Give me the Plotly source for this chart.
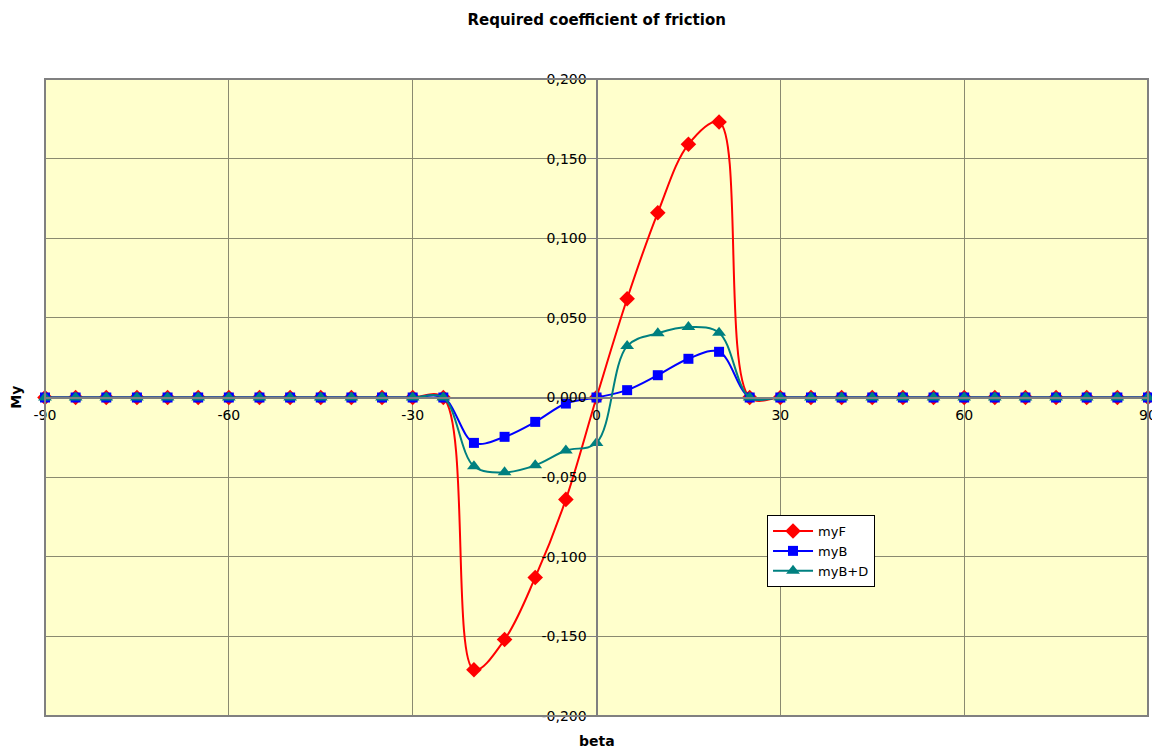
import plotly.graph_objects as go

beta = [-90, -85, -80, -75, -70, -65, -60, -55, -50, -45, -40, -35, -30, -25,
        -20, -15, -10, -5, 0, 5, 10, 15, 20, 25,
        30, 35, 40, 45, 50, 55, 60, 65, 70, 75, 80, 85, 90]

myF = [0, 0, 0, 0, 0, 0, 0, 0, 0, 0, 0, 0, 0, 0,
       -0.171, -0.152, -0.113, -0.064, 0.0, 0.062, 0.116, 0.159, 0.173, 0,
       0, 0, 0, 0, 0, 0, 0, 0, 0, 0, 0, 0, 0]

myB = [0, 0, 0, 0, 0, 0, 0, 0, 0, 0, 0, 0, 0, 0,
       -0.0285, -0.0247, -0.0153, -0.0038, 0.0, 0.0046, 0.014, 0.0243, 0.0287, 0,
       0, 0, 0, 0, 0, 0, 0, 0, 0, 0, 0, 0, 0]

myBD = [0, 0, 0, 0, 0, 0, 0, 0, 0, 0, 0, 0, 0, 0,
        -0.0432, -0.047, -0.0426, -0.0333, -0.0285, 0.0323, 0.0403, 0.0442, 0.0407, 0,
        0, 0, 0, 0, 0, 0, 0, 0, 0, 0, 0, 0, 0]

x_ticks = [-90, -60, -30, 0, 30, 60, 90]
x_ticktext = ["-90", "-60", "-30", "0", "30", "60", "90"]
y_ticks = [-0.2, -0.15, -0.1, -0.05, 0.0, 0.05, 0.1, 0.15, 0.2]
y_ticktext = ["-0,200", "-0,150", "-0,100", "-0,050", "0,000", "0,050", "0,100", "0,150", "0,200"]

FONT = "DejaVu Sans, Liberation Sans, Arial, sans-serif"

fig = go.Figure()
fig.add_trace(go.Scatter(x=beta, y=myF, name="myF", mode="lines+markers",
                         line=dict(color="#FF0000", width=2, shape="spline", smoothing=1),
                         marker=dict(symbol="diamond", size=12, color="#FF0000"),
                         cliponaxis=False))
fig.add_trace(go.Scatter(x=beta, y=myB, name="myB", mode="lines+markers",
                         line=dict(color="#0000FF", width=2, shape="spline", smoothing=1),
                         marker=dict(symbol="square", size=10, color="#0000FF"),
                         cliponaxis=False))
fig.add_trace(go.Scatter(x=beta, y=myBD, name="myB+D", mode="lines+markers",
                         line=dict(color="#008080", width=2, shape="spline", smoothing=1),
                         marker=dict(symbol="triangle-up", size=12, color="#008080"),
                         cliponaxis=False))

fig.update_layout(
    width=1152, height=745,
    margin=dict(l=37, r=12, t=71, b=37, autoexpand=False),
    paper_bgcolor="white",
    plot_bgcolor="#FFFFCC",
    font=dict(family=FONT, size=14, color="#000000"),
    title=dict(text="<b>Required coefficient of friction</b>", x=0.511, xanchor="center",
               y=0.984, yanchor="middle", font=dict(size=15, family=FONT)),
    xaxis=dict(range=[-90, 90], tickvals=x_ticks, ticktext=x_ticktext,
               showgrid=True, gridcolor="#8A8A70", gridwidth=1,
               zeroline=False, showline=True, linecolor="#808080", linewidth=2,
               anchor="free", position=0.5, ticks="", ticklabelstandoff=5,
               tickfont=dict(size=14), automargin=False),
    yaxis=dict(range=[-0.2, 0.2], tickvals=y_ticks, ticktext=y_ticktext,
               showgrid=True, gridcolor="#8A8A70", gridwidth=1,
               zeroline=False, showline=True, linecolor="#808080", linewidth=2,
               anchor="free", position=0.5, ticks="outside", ticklen=6,
               tickcolor="#808080", tickfont=dict(size=14), automargin=False),
    legend=dict(x=0.6546, y=0.3155, xanchor="left", yanchor="top",
                bgcolor="white", bordercolor="#000000", borderwidth=1,
                font=dict(size=13, family=FONT), tracegroupgap=0,
                itemwidth=40),
    showlegend=True,
)

fig.add_shape(type="rect", xref="paper", yref="paper", x0=0, y0=0, x1=1, y1=1,
              line=dict(color="#808080", width=2), layer="above")

fig.add_annotation(text="<b>My</b>", xref="paper", yref="paper", x=-0.027, y=0.5,
                   textangle=-90, showarrow=False, font=dict(size=14, family=FONT),
                   xanchor="center", yanchor="middle")
fig.add_annotation(text="<b>beta</b>", xref="paper", yref="paper", x=0.5, y=-0.039,
                   showarrow=False, font=dict(size=14, family=FONT),
                   xanchor="center", yanchor="middle")

fig.write_html("out.html")
